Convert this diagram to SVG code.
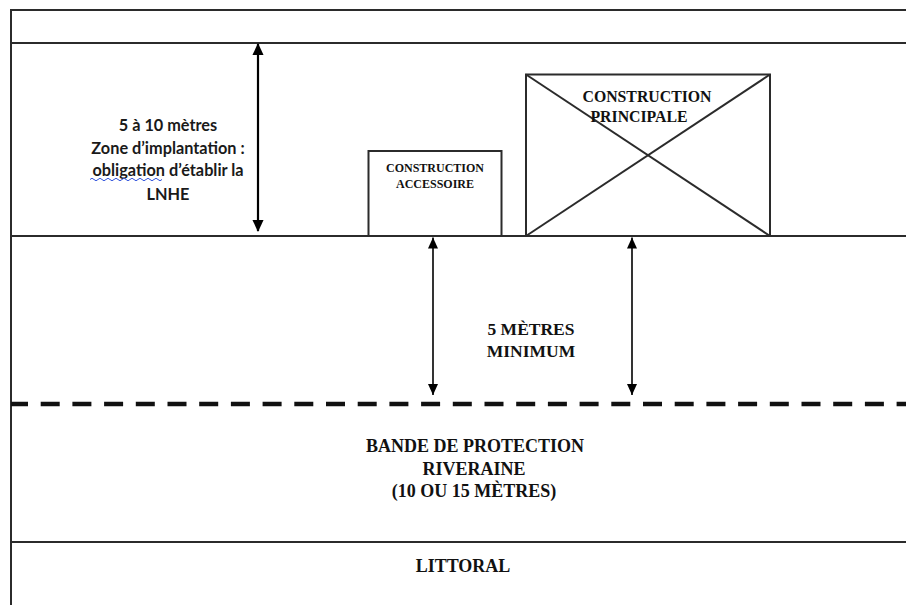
<svg xmlns="http://www.w3.org/2000/svg" width="906" height="605" viewBox="0 0 906 605">
<style>
.ln{stroke:#2b2b2b;stroke-width:2;fill:none}
.bx{stroke:#2b2b2b;stroke-width:2;fill:#fff}
.ar{stroke:#000;fill:none}
.tm{font-family:"Liberation Serif","Times New Roman",serif;font-weight:bold;fill:#111;text-anchor:middle}
.cb{font-family:Lato,"Liberation Sans",sans-serif;font-weight:bold;fill:#1a1a1a;text-anchor:middle;font-size:16.3px}
</style>
<defs>
<marker id="hL" viewBox="0 0 12 13" refX="12" refY="6" markerUnits="userSpaceOnUse" markerWidth="13" markerHeight="12" orient="auto"><path d="M0,0 L13,6 L0,12 Z" fill="#000"/></marker>
<marker id="hS" viewBox="0 0 11 10" refX="11" refY="5" markerUnits="userSpaceOnUse" markerWidth="11" markerHeight="10" orient="auto"><path d="M0,0 L11,5 L0,10 Z" fill="#000"/></marker>
</defs>
<rect width="906" height="605" fill="#fff"/>
<g id="frame">
<line class="ln" x1="11" y1="10" x2="906" y2="10"/>
<line class="ln" x1="11" y1="9" x2="11" y2="605"/>
<line class="ln" x1="11" y1="43" x2="906" y2="43"/>
<line class="ln" x1="11" y1="236" x2="906" y2="236"/>
<line x1="11" y1="404" x2="906" y2="404" stroke="#111" stroke-width="4.5" stroke-dasharray="19 12.7" stroke-dashoffset="2"/>
<line class="ln" x1="11" y1="542" x2="906" y2="542"/>
</g>
<g id="zone-label">
<text class="cb" x="168" y="131">5 à 10 mètres</text>
<text class="cb" x="168" y="154">Zone d’implantation :</text>
<text class="cb" x="168" y="176">obligation d’établir la</text>
<text class="cb" x="168" y="200">LNHE</text>
<path d="M90,179.5 q2,-2.5 4,0 t4,0 t4,0 t4,0 t4,0 t4,0 t4,0 t4,0 t4,0 t4,0 t4,0 t4,0 t4,0 t4,0 t4,0 t4,0 t4,0 t4,0" stroke="#3355dd" stroke-width="1" fill="none"/>
</g>
<g id="construction-accessoire">
<rect class="bx" x="368.5" y="151" width="133" height="85"/>
<text class="tm" x="435" y="172" font-size="12">CONSTRUCTION</text>
<text class="tm" x="435" y="188" font-size="12">ACCESSOIRE</text>
</g>
<g id="construction-principale">
<rect class="bx" x="526" y="74.5" width="244" height="161.5"/>
<line class="ln" x1="526" y1="74.5" x2="770" y2="236"/>
<line class="ln" x1="526" y1="236" x2="770" y2="74.5"/>
<text class="tm" x="647" y="102" font-size="15.8">CONSTRUCTION</text>
<text class="tm" x="639" y="122" font-size="15.8">PRINCIPALE</text>
</g>
<g id="connectors">
<line class="ar" stroke-width="2.2" x1="258" y1="137" x2="258" y2="44" marker-end="url(#hL)"/>
<line class="ar" stroke-width="2.2" x1="258" y1="137" x2="258" y2="231" marker-end="url(#hL)"/>
<line class="ar" stroke-width="1.6" x1="433" y1="316" x2="433" y2="237.5" marker-end="url(#hS)"/>
<line class="ar" stroke-width="1.6" x1="433" y1="316" x2="433" y2="395" marker-end="url(#hS)"/>
<line class="ar" stroke-width="1.6" x1="632" y1="316" x2="632" y2="237.5" marker-end="url(#hS)"/>
<line class="ar" stroke-width="1.6" x1="632" y1="316" x2="632" y2="395" marker-end="url(#hS)"/>
</g>
<g id="distance-label">
<text class="tm" x="531" y="335" font-size="17.5">5 MÈTRES</text>
<text class="tm" x="531" y="357" font-size="17.5">MINIMUM</text>
</g>
<g id="bande-label">
<text class="tm" x="475" y="452" font-size="18">BANDE DE PROTECTION</text>
<text class="tm" x="474" y="475" font-size="18">RIVERAINE</text>
<text class="tm" x="474" y="497" font-size="18">(10 OU 15 MÈTRES)</text>
</g>
<g id="littoral-label">
<text class="tm" x="463" y="572" font-size="18">LITTORAL</text>
</g>
</svg>
